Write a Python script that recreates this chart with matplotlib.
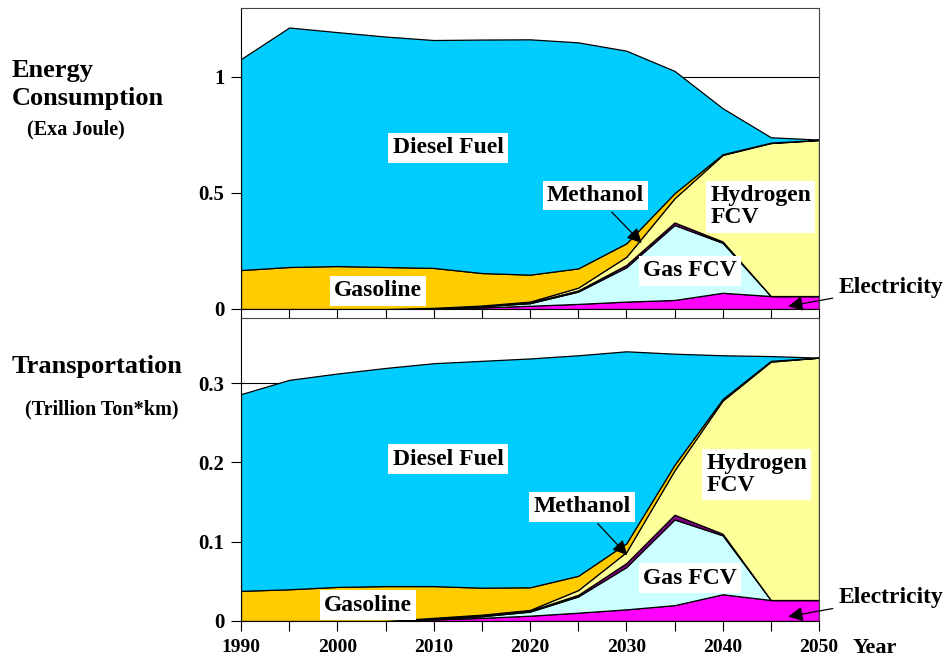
import numpy as np
import matplotlib
matplotlib.use("Agg")
import matplotlib.pyplot as plt

plt.rcParams['font.family'] = ['Liberation Serif', 'DejaVu Serif']
plt.rcParams['font.weight'] = 'bold'

years = [1990, 1995, 2000, 2005, 2010, 2015, 2020, 2025, 2030, 2035, 2040, 2045, 2050]

# energy consumption (Exa Joule), cumulative tops of each layer
e_elec     = [0, 0, 0, 0, 0.002, 0.007, 0.014, 0.022, 0.032, 0.039, 0.070, 0.056, 0.056]
e_gasfcv   = [0, 0, 0, 0, 0.003, 0.012, 0.025, 0.075, 0.180, 0.362, 0.285, 0.056, 0.056]
e_meth     = [0, 0, 0, 0, 0.004, 0.014, 0.028, 0.080, 0.190, 0.373, 0.291, 0.056, 0.056]
e_hydrogen = [0, 0, 0, 0, 0.005, 0.015, 0.032, 0.092, 0.225, 0.477, 0.664, 0.715, 0.728]
e_gasoline = [0.168, 0.181, 0.185, 0.181, 0.177, 0.155, 0.148, 0.175, 0.283, 0.499, 0.667, 0.717, 0.729]
e_diesel   = [1.077, 1.213, 1.193, 1.174, 1.159, 1.161, 1.162, 1.149, 1.113, 1.026, 0.865, 0.740, 0.730]

# transportation (Trillion Ton*km), cumulative tops
t_elec     = [0, 0, 0, 0, 0.002, 0.004, 0.0067, 0.0105, 0.0147, 0.020, 0.0337, 0.0265, 0.0265]
t_gasfcv   = [0, 0, 0, 0, 0.003, 0.006, 0.0118, 0.031, 0.068, 0.128, 0.108, 0.0265, 0.0265]
t_meth     = [0, 0, 0, 0, 0.0035, 0.007, 0.013, 0.033, 0.073, 0.134, 0.110, 0.0265, 0.0265]
t_hydrogen = [0, 0, 0, 0, 0.004, 0.008, 0.014, 0.039, 0.087, 0.190, 0.278, 0.327, 0.332]
t_gasoline = [0.038, 0.040, 0.043, 0.044, 0.044, 0.042, 0.0425, 0.057, 0.098, 0.197, 0.280, 0.328, 0.332]
t_diesel   = [0.286, 0.304, 0.312, 0.319, 0.325, 0.328, 0.331, 0.335, 0.340, 0.337, 0.335, 0.334, 0.332]

colors = ['#FF00FF', '#CCFFFF', '#800080', '#FFFF99', '#FFCC00', '#00CCFF']


def layers(tops):
    tops = [np.array(t, dtype=float) for t in tops]
    out = [tops[0]]
    for a, b in zip(tops[:-1], tops[1:]):
        out.append(np.clip(b - a, 0, None))
    return out


fig = plt.figure(figsize=(9.47, 6.62), dpi=100)
ax1 = fig.add_axes([241/947, 1-309/662, 578/947, 301/662])
ax2 = fig.add_axes([241/947, 1-621/662, 578/947, 303/662])

box = dict(facecolor='white', edgecolor='none', pad=3)
tfs = 17
arrow = dict(arrowstyle='-|>', color='black', lw=0.9, mutation_scale=22, shrinkB=0)

for ax, tops, ylim, yt, ytl, grid in [
        (ax1, [e_elec, e_gasfcv, e_meth, e_hydrogen, e_gasoline, e_diesel], 1.297,
         [0, 0.5, 1], ['0', '0.5', '1'], [0.5, 1]),
        (ax2, [t_elec, t_gasfcv, t_meth, t_hydrogen, t_gasoline, t_diesel], 0.382,
         [0, 0.1, 0.2, 0.3], ['0', '0.1', '0.2', '0.3'], [0.1, 0.2, 0.3])]:
    for g in grid:
        ax.axhline(g, color='black', lw=0.8, zorder=0)
    ax.stackplot(years, *layers(tops), colors=colors, edgecolor='black', linewidth=0.9, zorder=1)
    ax.set_xlim(1990, 2050)
    ax.set_ylim(0, ylim)
    ax.set_yticks(yt)
    ax.set_yticklabels(ytl, fontsize=15, fontweight='bold')
    ax.set_xticks(range(1990, 2051, 5))
    ax.tick_params(axis='both', direction='out', length=7, width=0.8, pad=5)
    for s in ax.spines.values():
        s.set_linewidth(0.8)
        s.set_color('#444444')
    ax.spines['left'].set_color('black')
    ax.spines['bottom'].set_color('black')

ax1.set_xticklabels([])
ax2.set_xticklabels([str(y) if y % 10 == 0 else '' for y in years], fontsize=14, fontweight='bold')
ax2.tick_params(axis='x', pad=6)

# annotations, top panel
ax1.text(2011.5, 0.694, 'Diesel Fuel', ha='center', va='center', fontsize=tfs, bbox=box)
ax1.text(2004.2, 0.078, 'Gasoline', ha='center', va='center', fontsize=tfs, bbox=box)
ax1.text(2036.6, 0.164, 'Gas FCV', ha='center', va='center', fontsize=tfs, bbox=box)
ax1.text(2038.7, 0.44, 'Hydrogen\nFCV', ha='left', va='center', fontsize=tfs, bbox=box, linespacing=1.05)
ax1.annotate('Methanol', xy=(2031.6, 0.284), xytext=(2026.8, 0.49), ha='center', va='center',
             fontsize=tfs, bbox=box, arrowprops=dict(arrow, shrinkA=2))
ax1.annotate('Electricity', xy=(2046.8, 0.012), xytext=(2052, 0.092), ha='left', va='center',
             fontsize=tfs, annotation_clip=False, arrowprops=dict(arrow, shrinkA=2))

# annotations, bottom panel
ax2.text(2011.5, 0.204, 'Diesel Fuel', ha='center', va='center', fontsize=tfs, bbox=box)
ax2.text(2003.2, 0.020, 'Gasoline', ha='center', va='center', fontsize=tfs, bbox=box)
ax2.text(2036.6, 0.054, 'Gas FCV', ha='center', va='center', fontsize=tfs, bbox=box)
ax2.text(2038.3, 0.185, 'Hydrogen\nFCV', ha='left', va='center', fontsize=tfs, bbox=box, linespacing=1.05)
ax2.annotate('Methanol', xy=(2030.1, 0.083), xytext=(2025.4, 0.144), ha='center', va='center',
             fontsize=tfs, bbox=box, arrowprops=dict(arrow, shrinkA=2))
ax2.annotate('Electricity', xy=(2046.8, 0.0055), xytext=(2052, 0.029), ha='left', va='center',
             fontsize=tfs, annotation_clip=False, arrowprops=dict(arrow, shrinkA=2))

fig.text(12/947, 1-70/662, 'Energy', fontsize=19, ha='left', va='center')
fig.text(12/947, 1-98/662, 'Consumption', fontsize=19, ha='left', va='center')
fig.text(27/947, 1-129/662, '(Exa Joule)', fontsize=14.5, ha='left', va='center')
fig.text(12/947, 1-367/662, 'Transportation', fontsize=19, ha='left', va='center')
fig.text(25/947, 1-409/662, '(Trillion Ton*km)', fontsize=14.5, ha='left', va='center')
fig.text(853/947, 1-648/662, 'Year', fontsize=16, ha='left', va='center')

fig.savefig('out.png', dpi=100)
